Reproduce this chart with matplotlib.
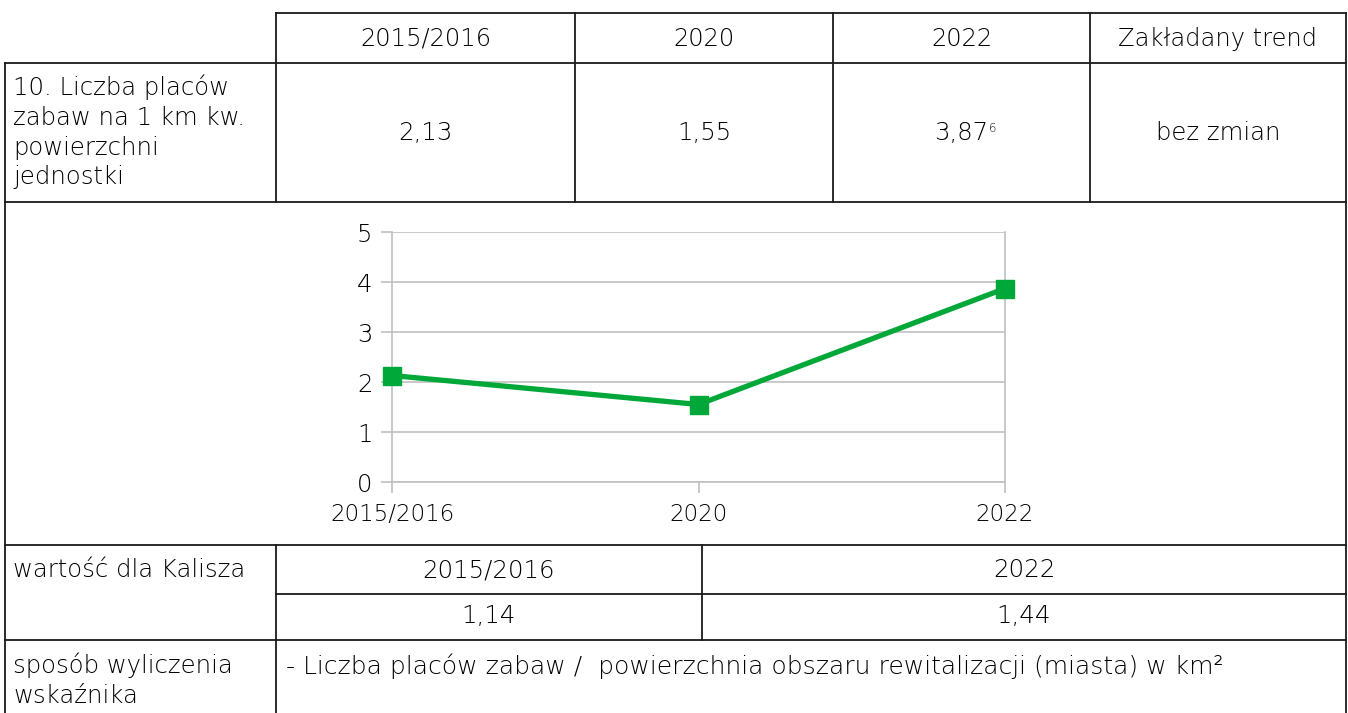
import matplotlib.pyplot as plt

plt.rcParams['font.family'] = ['DejaVu Sans']
plt.rcParams['font.weight'] = 200

# data
years = ['2015/2016', '2020', '2022']
values = [2.13, 1.55, 3.87]
value_labels = ['2,13', '1,55', '3,87']
value_notes = ['', '', '6']
trend_header = 'Zakładany trend'
trend = 'bez zmian'
indicator = '10. Liczba placów\nzabaw na 1 km kw.\npowierzchni\njednostki'
kalisz_label = 'wartość dla Kalisza'
kalisz_years = ['2015/2016', '2022']
kalisz_values = ['1,14', '1,44']
method_label = 'sposób wyliczenia\nwskaźnika'
method = '- Liczba placów zabaw /  powierzchnia obszaru rewitalizacji (miasta) w km²'
y_ticks = [0, 1, 2, 3, 4, 5]

W, H = 1348, 713
fs = 17.6
ink = '#000000'
fig = plt.figure(figsize=(W / 100, H / 100), dpi=100)

# full-figure axes in pixel units for the table grid
tab = fig.add_axes([0, 0, 1, 1])
tab.set_xlim(0, W)
tab.set_ylim(H, 0)
tab.axis('off')

def hline(y, x0, x1):
    tab.plot([x0, x1], [y, y], color='#1a1a1a', lw=1.3, solid_capstyle='projecting')

def vline(x, y0, y1):
    tab.plot([x, x], [y0, y1], color='#1a1a1a', lw=1.3, solid_capstyle='projecting')

L, R = 5, 1346
cols = [276, 575, 833, 1090, R]
rows = [13, 63, 202, 545, 594, 640]

hline(rows[0], cols[0], R)
for y in (rows[1], rows[2], rows[3], rows[5]):
    hline(y, L, R)
hline(rows[4], cols[0], R)
vline(L, rows[1], H + 2)
vline(R, rows[0], H + 2)
for x in cols[:-1]:
    vline(x, rows[0], rows[2])
vline(cols[0], rows[3], H + 2)
mid = 702
vline(mid, rows[3], rows[5])

# header row
centers = [(cols[i] + cols[i + 1]) / 2 for i in range(4)]
for c, t in zip(centers, years + [trend_header]):
    tab.text(c, 39, t, ha='center', va='center', fontsize=17.4, color=ink)

# indicator row
tab.text(13, 132, indicator, ha='left', va='center', fontsize=fs, color=ink,
         linespacing=1.3)
for c, t, n in zip(centers, value_labels, value_notes):
    txt = tab.text(c, 133, t, ha='center', va='center', fontsize=fs, color=ink)
    if n:
        tab.annotate(n, xy=(1.0, 0.95), xycoords=txt, ha='left', va='top',
                     fontsize=8.5, color=ink)
tab.text(centers[3], 133, trend, ha='center', va='center', fontsize=fs, color=ink)

# Kalisz rows
tab.text(13, 570, kalisz_label, ha='left', va='center', fontsize=fs, color=ink)
kc = [(cols[0] + mid) / 2, (mid + R) / 2]
for c, y, v in zip(kc, kalisz_years, kalisz_values):
    tab.text(c, 570, y, ha='center', va='center', fontsize=fs, color=ink)
    tab.text(c, 616, v, ha='center', va='center', fontsize=fs, color=ink)

# method row
tab.text(13, 680, method_label, ha='left', va='center', fontsize=fs, color=ink,
         linespacing=1.3)
tab.text(286, 666, method, ha='left', va='center', fontsize=18, color=ink)

# line chart
ax = fig.add_axes([392 / W, 1 - 482 / H, (1005 - 392) / W, (482 - 232) / H])
x = range(len(years))
ax.plot(x, values, color='#00a83a', lw=3.8, marker='s', markersize=13, zorder=3,
        clip_on=False)
ax.set_xlim(0, len(years) - 1)
ax.set_ylim(0, 5)
ax.set_yticks(y_ticks)
ax.set_xticks(list(x))
ax.set_xticklabels(years)
ax.grid(axis='y', color='#c0c0c0', lw=1.2)
ax.set_axisbelow(True)
for s in ('left', 'right', 'bottom'):
    ax.spines[s].set_color('#c0c0c0')
    ax.spines[s].set_linewidth(1.2)
ax.spines['top'].set_visible(False)
ax.tick_params(axis='both', colors='#c0c0c0', labelcolor=ink, labelsize=16.5,
               length=8, width=1.2)
ax.tick_params(axis='y', labelsize=17.5)
ax.tick_params(axis='x', pad=7)
ax.tick_params(axis='y', pad=6)
ax.patch.set_alpha(0)

fig.savefig('out.png', dpi=100)
